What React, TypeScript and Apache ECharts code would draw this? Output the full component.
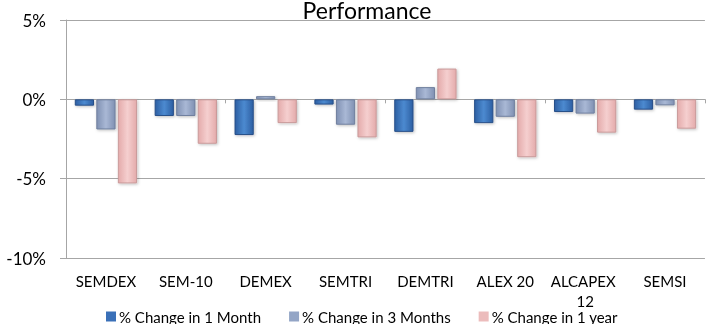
import React, { useEffect, useRef } from "react";
import * as echarts from "echarts";

const categories = ["SEMDEX", "SEM-10", "DEMEX", "SEMTRI", "DEMTRI", "ALEX 20", "ALCAPEX 12", "SEMSI"];
const change1Month = [-0.4, -1.05, -2.25, -0.33, -2.05, -1.5, -0.8, -0.65];
const change3Months = [-1.9, -1.05, 0.2, -1.6, 0.77, -1.1, -0.9, -0.38];
const change1Year = [-5.3, -2.8, -1.5, -2.4, 1.94, -3.65, -2.1, -1.85];
const seriesNames = ["% Change in 1 Month", "% Change in 3 Months", "% Change in 1 year"];

const FONT = "Lato";

function grad(edge: string, mid: string) {
  return new echarts.graphic.LinearGradient(0, 0, 1, 0, [
    { offset: 0, color: edge },
    { offset: 0.5, color: mid },
    { offset: 1, color: edge },
  ]);
}

export default function App() {
  const ref = useRef<HTMLDivElement>(null);
  useEffect(() => {
    if (!ref.current) return;
    const chart = echarts.init(ref.current, undefined, { renderer: "svg" });
    const styles = [
      { c: grad("#2d5fa3", "#4c8ad0"), b: "#284f88", l: "#3a70b8" },
      { c: grad("#8091b3", "#a9b8d5"), b: "#6f7f9e", l: "#93a5c6" },
      { c: grad("#e4abab", "#f5cfcf"), b: "#c99a9a", l: "#ecbcbc" },
    ];
    const datas = [change1Month, change3Months, change1Year];
    chart.setOption({
      animation: false,
      title: {
        text: "Performance",
        left: 367,
        textAlign: "center",
        top: -2,
        padding: 0,
        textStyle: { fontFamily: FONT, fontSize: 23, lineHeight: 23, fontWeight: "normal", color: "#000" },
      },
      grid: { left: 66, right: 1, top: 20, bottom: 66, containLabel: false },
      legend: {
        top: 309,
        left: 106,
        padding: 0,
        itemWidth: 10,
        itemHeight: 10,
        itemGap: 28,
        icon: "rect",
        textStyle: { fontFamily: FONT, fontSize: 15, color: "#000", padding: [0, 0, 0, -2] },
        data: seriesNames.map((n, i) => ({ name: n, itemStyle: { color: styles[i].l, borderWidth: 0 } })),
      },
      xAxis: [
        {
          type: "category",
          data: categories,
          position: "bottom",
          axisLine: { show: false, onZero: false },
          axisTick: { show: false },
          axisLabel: {
            fontFamily: FONT,
            fontSize: 15,
            color: "#000",
            margin: 13,
            lineHeight: 20,
            width: 76,
            overflow: "break",
            interval: 0,
          },
        },
        {
          type: "category",
          data: categories,
          position: "bottom",
          axisLine: { show: true, onZero: true, lineStyle: { color: "#a6a6a6", width: 1 } },
          axisTick: { show: true, length: 4, lineStyle: { color: "#a6a6a6" } },
          axisLabel: { show: false },
        },
      ],
      yAxis: {
        type: "value",
        min: -10,
        max: 5,
        interval: 5,
        axisLine: { show: true, lineStyle: { color: "#a6a6a6", width: 1 } },
        axisTick: { show: true, length: 6, lineStyle: { color: "#a6a6a6" } },
        splitLine: { show: true, lineStyle: { color: "#a6a6a6", width: 1 } },
        axisLabel: {
          fontFamily: FONT,
          fontSize: 17,
          color: "#000",
          margin: 20,
          formatter: (v: number) => `${v}%`,
        },
      },
      series: datas.map((d, i) => ({
        name: seriesNames[i],
        type: "bar",
        xAxisIndex: 0,
        data: d,
        barGap: "12%",
        barCategoryGap: "22%",
        itemStyle: {
          color: styles[i].c,
          borderColor: styles[i].b,
          borderWidth: 1,
          shadowColor: "rgba(0,0,0,0.25)",
          shadowBlur: 3,
          shadowOffsetX: 1,
          shadowOffsetY: 1,
        },
      })),
    });
    return () => chart.dispose();
  }, []);
  return <div ref={ref} style={{ position: "fixed", left: 0, top: 0, width: 706, height: 324 }} />;
}
